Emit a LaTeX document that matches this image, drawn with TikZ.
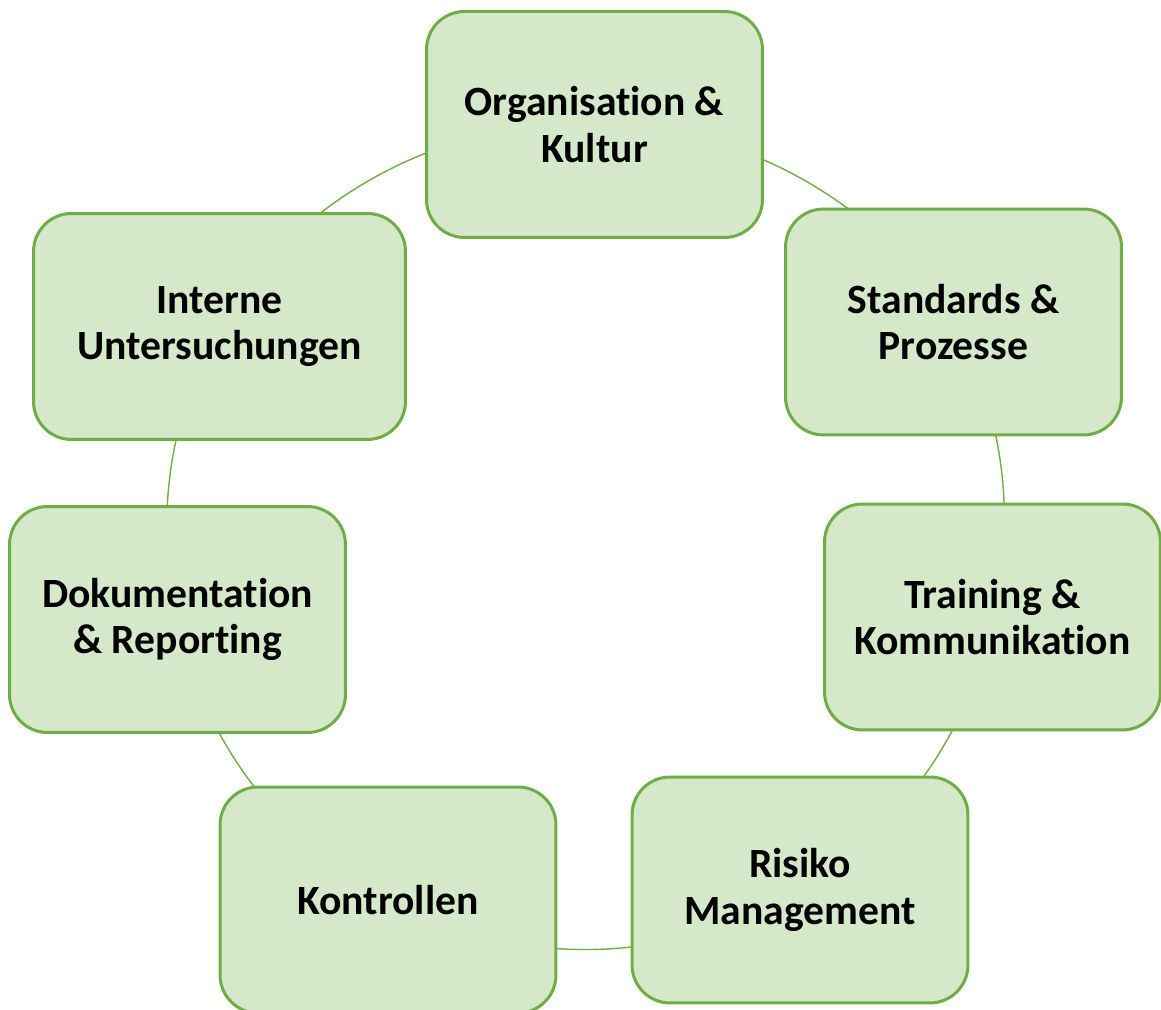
\documentclass[tikz,border=0pt]{standalone}
\usepackage{fontspec}
\setmainfont{Carlito}[Ligatures=NoCommon]
\usetikzlibrary{backgrounds}
\definecolor{leafgreen}{HTML}{70AD47}
\definecolor{leaffill}{HTML}{D5E8CA}

\begin{document}
\begin{tikzpicture}[x=0.02cm, y=0.02cm, thick,
    stage/.style={rectangle, rounded corners=0.76cm, draw=leafgreen, line width=1.7pt,
      fill=leaffill, minimum width=6.72cm, minimum height=4.52cm, align=center,
      font=\fontsize{23.7}{26.5}\selectfont\bfseries},
    cycle/.style={draw=leafgreen, line width=0.8pt, looseness=0.9}]

    \useasboundingbox (0,0) rectangle (1161,1010);

    \node[stage] (org) at (594.5,885.5) {Organisation \&\\Kultur};
    \node[stage] (std) at (953.5,688) {Standards \&\\Prozesse};
    \node[stage] (train) at (992.5,393) {Training \&\\Kommunikation};
    \node[stage] (risk) at (800,120) {Risiko\\Management};
    \node[stage] (ctrl) at (388,110) {Kontrollen};
    \node[stage] (doc) at (177.5,390.5) {Dokumentation\\\& Reporting};
    \node[stage, minimum width=7.44cm] (inv) at (219.5,683.5) {Interne\\Untersuchungen};

    % ring behind the stages
    \begin{scope}[on background layer]
    \path[cycle]
        (org.center) edge[bend left=29] (std.center)
        (std.center) edge[bend left=21] (train.center)
        (train.center) edge[bend left=24] (risk.center)
        (risk.center) edge[bend left=30] (ctrl.center)
        (ctrl.center) edge[bend left=25] (doc.center)
        (doc.center) edge[bend left=21] (inv.center)
        (inv.center) edge[bend left=31] (org.center);
    \end{scope}

\end{tikzpicture}
\end{document}
